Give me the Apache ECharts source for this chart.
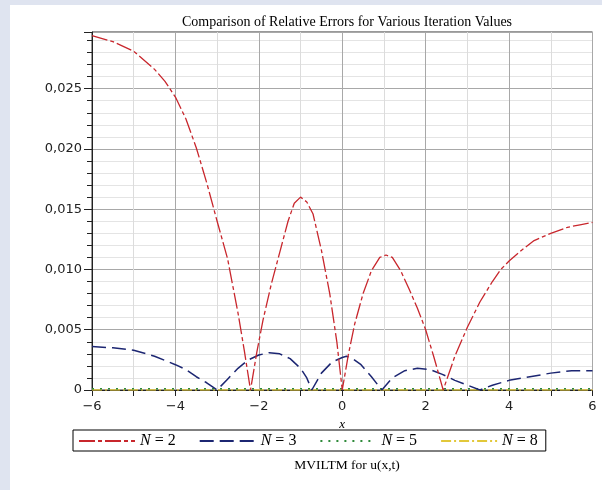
<!DOCTYPE html>
<html><head><meta charset="utf-8">
<script src="https://cdn.jsdelivr.net/npm/echarts@6/dist/echarts.min.js"></script>
<style>html,body{margin:0;padding:0;background:#dfe4f0;}#c{width:602px;height:490px;}</style>
</head><body><div id="c"></div>
<script>
// ---- data ----
const titleText = "Comparison of Relative Errors for Various Iteration Values";
const subtitleText = "MVILTM for u(x,t)";
const seriesNames = ["N = 2", "N = 3", "N = 5", "N = 8"];
const xN2 = [-6,-5.5,-5,-4.5,-4.25,-4,-3.75,-3.5,-3.25,-3,-2.75,-2.5,-2.35,-2.2,-2.05,-1.9,-1.7,-1.5,-1.3,-1.15,-1,-0.85,-0.7,-0.5,-0.3,-0.13,0,0.15,0.3,0.5,0.7,0.9,1.05,1.2,1.4,1.6,1.8,2,2.2,2.42,2.7,3,3.3,3.6,3.8,4,4.3,4.6,5,5.4,5.7,6];
const yN2 = [0.0294,0.0289,0.0281,0.0266,0.0256,0.0243,0.0225,0.0201,0.0172,0.0140,0.0109,0.0064,0.0033,0,0.0031,0.0058,0.0088,0.0114,0.0140,0.0155,0.0160,0.0156,0.0146,0.0116,0.0080,0.0040,0,0.0030,0.0055,0.0080,0.0099,0.0110,0.0112,0.0110,0.0099,0.0084,0.0068,0.0050,0.0027,0,0.0028,0.0052,0.0073,0.0090,0.0100,0.0107,0.0116,0.0124,0.0130,0.0135,0.0137,0.0139];
const xN3 = [-6,-5.5,-5,-4.5,-4,-3.75,-3.5,-3.25,-3,-2.75,-2.5,-2.25,-2,-1.75,-1.5,-1.25,-1,-0.85,-0.73,-0.5,-0.25,0,0.1,0.25,0.45,0.7,0.95,1.2,1.5,1.8,2.1,2.4,2.7,3,3.3,3.6,4,4.5,5,5.5,6];
const yN3 = [0.0036,0.0035,0.0033,0.0028,0.0021,0.0017,0.0011,0.0006,0,0.0009,0.0018,0.0025,0.0029,0.0031,0.0030,0.0026,0.0018,0.0010,0,0.0014,0.0023,0.0027,0.0028,0.0026,0.0021,0.0011,0,0.0010,0.0016,0.0018,0.0017,0.0013,0.0008,0.0004,0,0.0004,0.0008,0.0011,0.0014,0.0016,0.0016];
const xN5 = [-6,-5,-4,-3,-2,-1,0,1,2,3,4,5,6];
const yN5 = [0.0001,0.0001,0.0001,0.0001,0.0001,0.0001,0.0001,0.0001,0.0001,0.0001,0.0001,0.0001,0.0001];
const xN8 = [-6,-4,-2,0,2,4,6];
const yN8 = [0.00001,0.00001,0.00001,0.00001,0.00001,0.00001,0.00001];
const xTicks = [-6,-4,-2,0,2,4,6];
const yTickLabels = {"0":"0","0.005":"0,005","0.01":"0,010","0.015":"0,015","0.02":"0,020","0.025":"0,025"};

const pair = (xs, ys) => xs.map((x, i) => [x, ys[i]]);
const chart = echarts.init(document.getElementById('c'), null, {renderer: 'canvas'});
const serif = "'Liberation Serif','DejaVu Serif',serif";
const sans = "'DejaVu Sans','Liberation Sans',sans-serif";
const richN = {i: {fontStyle: 'italic', fontFamily: serif, fontSize: 16, color: '#000'}};

chart.setOption({
  backgroundColor: '#dfe4f0',
  animation: false,
  graphic: [{type: 'rect', z: -10, shape: {x: 10, y: 5, width: 592, height: 485}, style: {fill: '#ffffff'}}],
  title: [
    {text: titleText, left: 342, top: 10, textAlign: 'center',
     textStyle: {fontFamily: serif, fontSize: 14, fontWeight: 'normal', color: '#000'}},
    {text: subtitleText, left: 342, top: 453, textAlign: 'center',
     textStyle: {fontFamily: serif, fontSize: 13.5, fontWeight: 'normal', color: '#000'}}
  ],
  grid: {left: 92, right: 9.5, top: 32, bottom: 100, show: true, borderColor: '#333', borderWidth: 1},
  legend: {
    left: 73, top: 430, orient: 'horizontal',
    borderColor: '#000', borderWidth: 1, padding: [3, 8, 2, 5],
    itemWidth: 56, itemHeight: 14, itemGap: 23,
    itemStyle: {opacity: 0},
    data: seriesNames,
    formatter: n => '{i|N} ' + n.slice(2),
    textStyle: {fontFamily: serif, fontSize: 16, color: '#000', rich: richN}
  },
  xAxis: {
    type: 'value', min: -6, max: 6, interval: 2,
    name: 'x', nameLocation: 'middle', nameGap: 21,
    nameTextStyle: {fontFamily: serif, fontStyle: 'italic', fontSize: 13, color: '#000'},
    axisLine: {show: true, onZero: false, lineStyle: {color: '#222'}},
    axisTick: {show: true, length: 6, lineStyle: {color: '#222'}},
    minorTick: {show: true, splitNumber: 2, length: 6, lineStyle: {color: '#222'}},
    axisLabel: {fontFamily: sans, fontSize: 13, color: '#222', margin: 10,
      formatter: v => (v < 0 ? '\u2212' + Math.abs(v) : String(v))},
    splitLine: {show: true, lineStyle: {color: '#a8a8a8'}},
    minorSplitLine: {show: true, lineStyle: {color: '#dcdcdc'}}
  },
  yAxis: {
    type: 'value', min: 0, max: 0.0297, interval: 0.005,
    axisLine: {show: true, onZero: false, lineStyle: {color: '#222'}},
    axisTick: {show: true, length: 8, lineStyle: {color: '#222'}},
    minorTick: {show: true, splitNumber: 5, length: 5, lineStyle: {color: '#222'}},
    axisLabel: {fontFamily: sans, fontSize: 13, color: '#222', margin: 10,
      formatter: v => yTickLabels[String(+v.toFixed(3))] || ''},
    splitLine: {show: true, lineStyle: {color: '#a8a8a8'}},
    minorSplitLine: {show: true, lineStyle: {color: '#e4e4e4'}}
  },
  series: [
    {name: seriesNames[0], type: 'line', showSymbol: false, symbol: 'none', data: pair(xN2, yN2), z: 4,
     lineStyle: {color: '#c8262c', width: 1.3, type: [16, 3, 4, 3]}, itemStyle: {color: '#c8262c'}},
    {name: seriesNames[1], type: 'line', showSymbol: false, symbol: 'none', data: pair(xN3, yN3), z: 3,
     lineStyle: {color: '#1c2672', width: 1.5, type: [14, 6]}, itemStyle: {color: '#1c2672'}},
    {name: seriesNames[2], type: 'line', showSymbol: false, symbol: 'none', data: pair(xN5, yN5), z: 2,
     lineStyle: {color: '#2f8a3a', width: 1.5, type: [2, 6]}, itemStyle: {color: '#2f8a3a'}},
    {name: seriesNames[3], type: 'line', showSymbol: false, symbol: 'none', data: pair(xN8, yN8), z: 1,
     lineStyle: {color: '#e2c83a', width: 1.5, type: [10, 3, 2, 3]}, itemStyle: {color: '#e2c83a'}}
  ]
});
</script></body></html>
